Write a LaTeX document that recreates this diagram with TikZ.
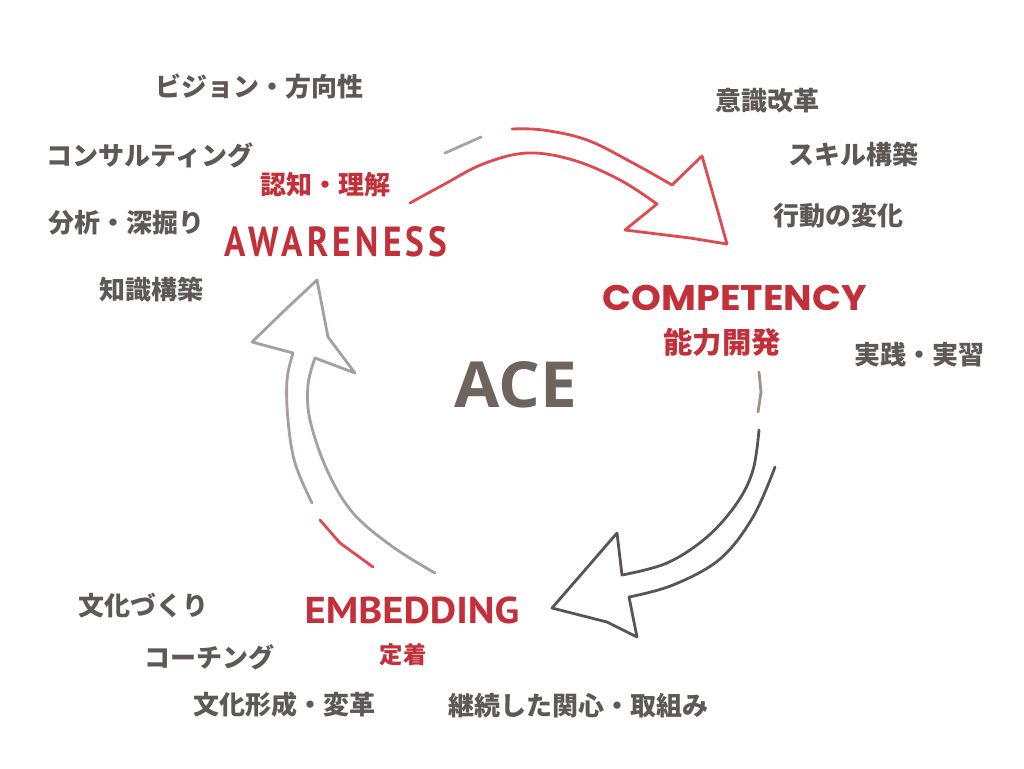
\documentclass[tikz,border=0pt]{standalone}
\usepackage{graphicx}
\usepackage{fontspec}
\newfontfamily\jpf{Noto Sans CJK JP}
\newfontfamily\popf{Poppins}
\newfontfamily\ptf{PT Sans}
\newfontfamily\osf{Open Sans}
\definecolor{tgray}{HTML}{5E5856}
\definecolor{tred}{HTML}{C3303A}
\definecolor{ared}{HTML}{DE4A50}
\definecolor{adark}{HTML}{5A5555}
\definecolor{alight}{HTML}{A79F9F}
\definecolor{dashg}{HTML}{A9A4A4}
\definecolor{dashb}{HTML}{A38F8C}
\definecolor{acec}{HTML}{6E635D}
\tikzset{
  gl/.style={font=\jpf\bfseries\fontsize{19.5}{20}\selectfont, text=tgray, inner sep=0pt},
  rl/.style={font=\jpf\bfseries\fontsize{#1}{#1}\selectfont, text=tred, inner sep=0pt},
  big/.style={inner sep=0pt, text=tred},
  arr/.style={line width=2.1pt, line join=round, line cap=round},
}
\begin{document}
\begin{tikzpicture}[x=0.75pt,y=-0.75pt]
\fill[white] (0,0) rectangle (1024,768);
\useasboundingbox (0,0) rectangle (1024,768);

% top arrow (red)
\draw[arr, ared] plot[smooth, tension=0.6] coordinates {(410,203) (443,185) (483,164) (527,153) (573,160) (620,180) (657,204)}
  -- (625,230) -- (690,238) -- (727,244) -- (718,212) -- (702,156) -- (672,185)
  -- plot[smooth, tension=0.6] coordinates {(672,185) (633,163) (587,140) (543,130) (512,129)};
\draw[arr, dashg] (445,153) -- (463,145) -- (481,137);

% right arrow (dark gray)
\draw[arr, adark] plot[smooth, tension=0.6] coordinates {(759,430) (753,470) (737,503) (707,537) (667,563) (622,575)}
  -- (617,533) -- (585,570) -- (552,608) -- (607,622) -- (637,637) -- (629,597)
  -- plot[smooth, tension=0.6] coordinates {(629,597) (673,585) (720,559) (753,517) (775,467)};
\draw[arr, dashb] (759,372) -- (761,392) -- (758,412);

% left arrow (light gray)
\draw[arr, alight] plot[smooth, tension=0.6] coordinates {(312,503) (295,463) (288,420) (287,380) (293,353)}
  -- (252,342) -- (285,310) -- (317,280) -- (328,337) -- (355,373) -- (315,358)
  -- plot[smooth, tension=0.6] coordinates {(315,358) (308,385) (310,420) (327,470) (353,513) (393,547) (435,573)};
\draw[arr, ared] (320,520) -- (340,543) -- (373,567);

% main labels
\node[big] (aw) at (336,242) {\resizebox{167pt}{22.5pt}{\ptf\bfseries\addfontfeature{LetterSpace=12}AWARENESS}};
\node[big] (co) at (735,298) {\resizebox{198pt}{19pt}{\popf\bfseries COMPETENCY}};
\node[big] (em) at (412,610) {\resizebox{161pt}{20pt}{\ptf\bfseries EMBEDDING}};
\node[inner sep=0pt, text=acec] (ace) at (516,385) {\resizebox{92pt}{34.5pt}{\osf\bfseries ACE}};

\node[rl=19.5] (awj) at (325,185) {認知・理解};
\node[rl=22] (coj) at (722,342) {能力開発};
\node[rl=17.5] (emj) at (403,655) {定着};

% side labels
\node[gl] (l1) at (259,86) {ビジョン・方向性};
\node[gl] (l2) at (150,155) {コンサルティング};
\node[gl] (l3) at (126,223) {分析・深掘り};
\node[gl] (l4) at (151,290) {知識構築};
\node[gl] (r1) at (767,101) {意識改革};
\node[gl] (r2) at (853,154) {スキル構築};
\node[gl] (r3) at (838,216) {行動の変化};
\node[gl] (r4) at (919,355) {実践・実習};
\node[gl] (b1) at (143,606) {文化づくり};
\node[gl] (b2) at (209,657) {コーチング};
\node[gl] (b3) at (284,705) {文化形成・変革};
\node[gl] (b4) at (578,706) {継続した関心・取組み};
\end{tikzpicture}
\end{document}
